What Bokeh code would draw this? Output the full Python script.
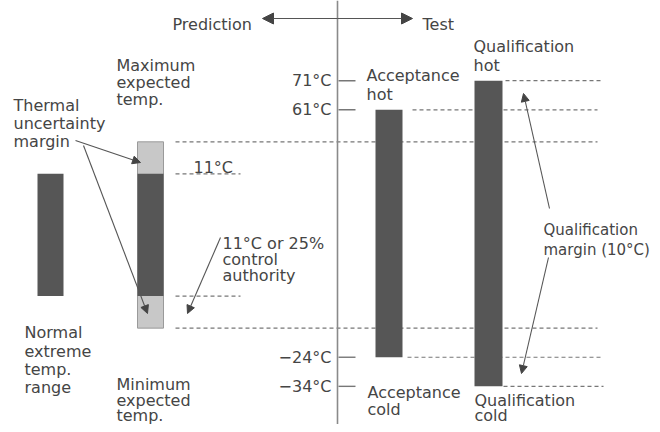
from bokeh.plotting import figure
from bokeh.models import Range1d, Span, Arrow, NormalHead
from bokeh.core.properties import value
from bokeh.embed import file_html
from bokeh.resources import INLINE

# ---------------- data (°C) ----------------
qual_hot = 71
acc_hot = 61
max_expected = 39
min_expected = -3
uncertainty_margin = 11
acc_cold = -24
qual_cold = -34

tick_temps = [71, 61, -24, -34]
tick_labels = ["71°C", "61°C", "\u221224°C", "\u221234°C"]

# ---------------- layout ----------------
W, H = 652, 424
PX_PER_C, T_REF, Y_REF = 2.911, 18.25, 233.75   # vertical scale of the sketch

p = figure(width=W, height=H, output_backend="svg", toolbar_location=None,
           x_range=Range1d(0, W),
           y_range=Range1d(T_REF - (H - Y_REF) / PX_PER_C, T_REF + Y_REF / PX_PER_C),
           x_axis_location=None, y_axis_location=None, min_border=0)
p.extra_y_ranges = {"px": Range1d(H, 0)}
p.grid.visible = False
p.outline_line_color = None
p.background_fill_color = "white"
p.border_fill_color = "white"

FONT = value("DejaVu Sans")
TXT = "#454545"
DARK = "#565656"
LIGHT = "#c8c8c8"

# dashed reference lines (behind bars)
dash_temps = [qual_hot, acc_hot, max_expected + uncertainty_margin, max_expected,
              min_expected, min_expected - uncertainty_margin, acc_cold, qual_cold]
dash_x0 = [505, 412, 175, 175, 175, 175, 407, 503]
dash_x1 = [602, 597, 597, 240, 240, 597, 600, 603]
p.segment(x0=dash_x0, x1=dash_x1, y0=dash_temps, y1=dash_temps,
          line_color="#777777", line_width=1.2, line_dash="4 3")

# bars
p.quad(left=[37, 375, 474], right=[63, 402, 502],
       bottom=[min_expected, acc_cold, qual_cold], top=[max_expected, acc_hot, qual_hot],
       fill_color=DARK, line_color=None)
p.quad(left=[137], right=[163],
       bottom=[min_expected - uncertainty_margin], top=[max_expected + uncertainty_margin],
       fill_color=LIGHT, line_color="#9a9a9a", line_width=1)
p.quad(left=[137], right=[163], bottom=[min_expected], top=[max_expected],
       fill_color=DARK, line_color=None)

# vertical divider
p.add_layout(Span(location=337, dimension="height", line_color="#8a8a8a", line_width=1.6))

# temperature ticks + labels
p.segment(x0=338, x1=355, y0=tick_temps, y1=tick_temps, line_color="#777777", line_width=1.4)
p.text(x=331, y=tick_temps, text=tick_labels, text_align="right", text_baseline="middle",
       text_font=FONT, text_font_size="16px", text_color=TXT)

# annotation texts (pixel rows from the top, baseline)
lines = [
    (172, 24, "Prediction"), (422, 24, "Test"),
    (116, 65, "Maximum"), (116, 82, "expected"), (116, 99, "temp."),
    (13, 105, "Thermal"), (13, 123, "uncertainty"), (13, 141, "margin"),
    (193, 167, "11°C"),
    (222, 243, "11°C or 25%"), (222, 259, "control"), (222, 275, "authority"),
    (24, 332, "Normal"), (24, 351, "extreme"), (24, 369, "temp."), (24, 387, "range"),
    (116, 384, "Minimum"), (116, 400, "expected"), (116, 415, "temp."),
    (366, 75, "Acceptance"), (366, 94, "hot"),
    (367, 392, "Acceptance"), (367, 409, "cold"),
    (474, 400, "Qualification"), (474, 415, "cold"),
    (473, 46, "Qualification"), (473, 65, "hot"),
]
p.text(x=[l[0] for l in lines], y=[l[1] for l in lines], text=[l[2] for l in lines],
       y_range_name="px", text_align="left", text_baseline="alphabetic",
       text_font=FONT, text_font_size="16px", text_color=TXT)
p.text(x=[543, 543], y=[229, 249], text=["Qualification", "margin (10°C)"],
       y_range_name="px", text_align="left", text_baseline="alphabetic",
       text_font=FONT, text_font_size="15px", text_color=TXT)

# arrows
def arrow(x0, y0, x1, y1, size=8):
    p.add_layout(Arrow(x_start=x0, y_start=y0, x_end=x1, y_end=y1, y_range_name="px",
                       line_color="#555555", line_width=1.1,
                       end=NormalHead(size=size, fill_color="#444444", line_color="#444444")))

arrow(337, 18, 262, 18, 11)
arrow(337, 18, 412, 18, 11)
arrow(75, 140, 140, 162)
arrow(83, 145, 147, 313)
arrow(220, 237, 187, 313)
arrow(549, 208, 523, 93)
arrow(548, 257, 521, 373)

open("out.html", "w").write(file_html(p, INLINE))
